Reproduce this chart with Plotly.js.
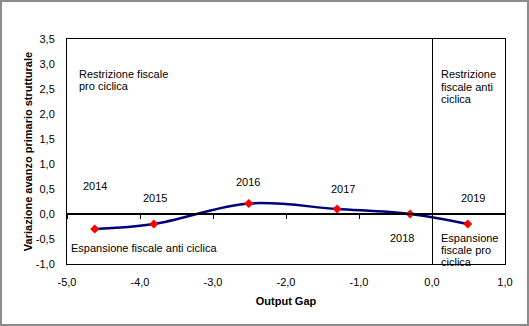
<!DOCTYPE html>
<html>
<head>
<meta charset="utf-8">
<script src="https://cdn.plot.ly/plotly-3.0.1.min.js"></script>
<style>
html,body{margin:0;padding:0;background:#fff;}
#wrap{position:relative;width:529px;height:326px;}
#chart{width:529px;height:326px;}
#frame{position:absolute;left:0;top:0;width:525px;height:322px;border:2px solid #8c8c8c;pointer-events:none;}
</style>
</head>
<body>
<div id="wrap"><div id="chart"></div><div id="frame"></div></div>
<script>
// Data
const years = ["2014", "2015", "2016", "2017", "2018", "2019"];
const outputGap = [-4.62, -3.81, -2.51, -1.30, -0.30, 0.49];
const primaryChange = [-0.30, -0.20, 0.21, 0.10, 0.00, -0.20];
const xTicks = [-5, -4, -3, -2, -1, 0, 1];
const yTicks = [-1, -0.5, 0, 0.5, 1, 1.5, 2, 2.5, 3, 3.5];
const fmt = v => v.toFixed(1).replace('.', ',');
const xTickText = xTicks.map(fmt);
const yTickText = yTicks.map(fmt);

const font = {family: 'Liberation Sans, Arial, sans-serif', size: 11, color: '#000'};
const boldFont = {family: font.family, size: 11, color: '#000', weight: 'bold'};

const traces = [
  {
    x: outputGap, y: primaryChange, type: 'scatter', mode: 'lines',
    line: {color: '#00007f', width: 2.5, shape: 'spline', smoothing: 1},
    hoverinfo: 'none', showlegend: false
  },
  {
    x: outputGap, y: primaryChange, type: 'scatter', mode: 'markers',
    marker: {symbol: 'diamond', color: '#ff0000', size: 7},
    hoverinfo: 'none', showlegend: false
  },
  {
    x: [xTicks[0]], y: [0], xaxis: 'x2', type: 'scatter', mode: 'markers',
    marker: {opacity: 0}, hoverinfo: 'none', showlegend: false
  },
  {
    x: [xTicks[0]], y: [0], yaxis: 'y2', type: 'scatter', mode: 'markers',
    marker: {opacity: 0}, hoverinfo: 'none', showlegend: false
  }
];

// Year label positions (data coordinates of the label centres)
const labelPos = [[-4.62, 0.56], [-3.79, 0.32], [-2.52, 0.64], [-1.22, 0.50], [-0.41, -0.48], [0.56, 0.32]];
const annotations = years.map((yr, i) => ({
  x: labelPos[i][0], y: labelPos[i][1], text: yr, showarrow: false,
  xanchor: 'center', yanchor: 'middle', font: font
}));
function block(lines, x, yStart, step) {
  lines.forEach((t, i) => annotations.push({
    x: x, y: yStart - i * step, text: t, showarrow: false,
    xanchor: 'left', yanchor: 'middle', align: 'left', font: font
  }));
}
block(['Restrizione fiscale', 'pro ciclica'], -4.86, 2.80, 0.245);
block(['Restrizione', 'fiscale anti', 'ciclica'], 0.10, 2.80, 0.25);
block(['Espansione fiscale anti ciclica'], -4.97, -0.68, 0.25);
block(['Espansione', 'fiscale pro', 'ciclica'], 0.10, -0.48, 0.235);

const layout = {
  width: 529, height: 326,
  margin: {l: 67, r: 24, t: 39, b: 62},
  paper_bgcolor: '#fff', plot_bgcolor: '#fff',
  font: font,
  showlegend: false,
  xaxis: {
    range: [-5, 1], tickvals: xTicks, ticktext: xTickText,
    showgrid: false, zeroline: false,
    showline: true, mirror: true, linecolor: '#000', linewidth: 1,
    ticks: 'outside', ticklen: 8, tickcolor: 'rgba(0,0,0,0)',
    title: {text: 'Output Gap', font: boldFont, standoff: 10},
    fixedrange: true
  },
  xaxis2: {
    range: [-5, 1], tickvals: xTicks, overlaying: 'x', anchor: 'free',
    position: 50 / 225, side: 'bottom',
    showgrid: false, zeroline: false, showticklabels: false,
    showline: true, linecolor: '#000', linewidth: 2,
    ticks: 'outside', ticklen: 4, tickcolor: '#000', tickwidth: 1,
    fixedrange: true
  },
  yaxis: {
    range: [-1, 3.5], tickvals: yTicks, ticktext: yTickText,
    showgrid: false, zeroline: false,
    showline: true, mirror: true, linecolor: '#000', linewidth: 1,
    ticks: 'outside', ticklen: 9, tickcolor: 'rgba(0,0,0,0)',
    title: {text: 'Variazione avanzo primario strutturale', font: boldFont, standoff: 0},
    fixedrange: true
  },
  yaxis2: {
    range: [-1, 3.5], overlaying: 'y', anchor: 'free', position: 5 / 6, side: 'left',
    showgrid: false, zeroline: false, showticklabels: false,
    showline: true, linecolor: '#000', linewidth: 1, ticks: '',
    fixedrange: true
  },
  annotations: annotations
};

Plotly.newPlot('chart', traces, layout, {displayModeBar: false, staticPlot: true});
</script>
</body>
</html>
